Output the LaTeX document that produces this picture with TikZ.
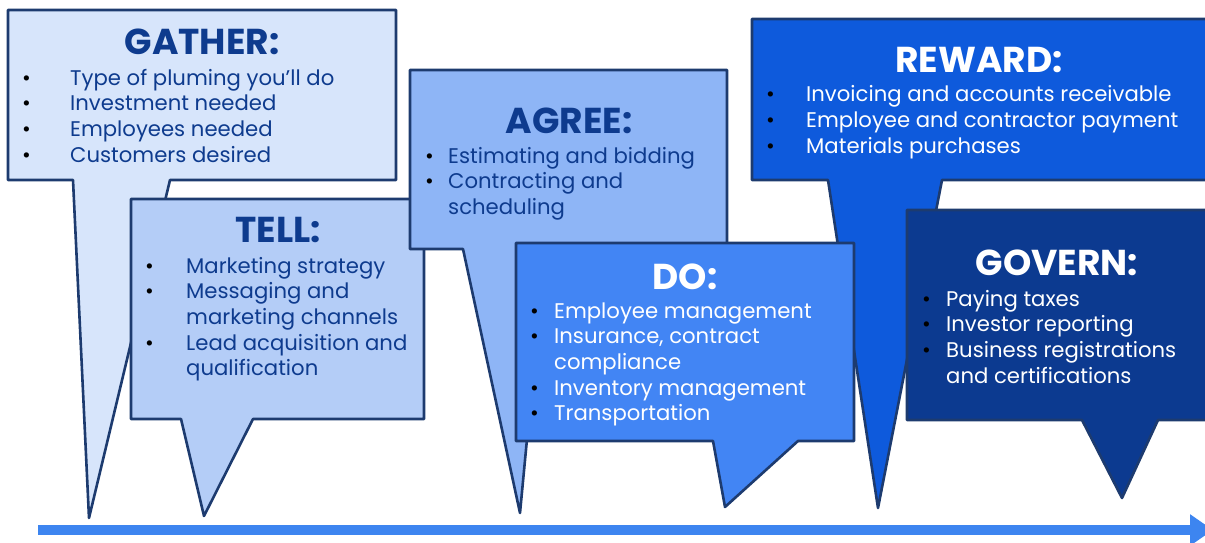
\documentclass[tikz,border=0pt]{standalone}
\usepackage{fontspec}
\setmainfont{Poppins}
\usetikzlibrary{arrows.meta}

\definecolor{edge}{HTML}{1D3B6F}
\definecolor{ink}{HTML}{0E3B8E}
\definecolor{gatherfill}{HTML}{D7E5FB}
\definecolor{tellfill}{HTML}{B4CDF7}
\definecolor{agreefill}{HTML}{8EB5F6}
\definecolor{dofill}{HTML}{4285F4}
\definecolor{rewardfill}{HTML}{0E5ADC}
\definecolor{governfill}{HTML}{0C3A90}
\definecolor{flow}{HTML}{3D85F0}

% bullet list: fixed gap between the bullet and the item text
\newcommand\itemtab[2]{\begin{tabular}[t]{@{}p{#1}@{}l@{}}#2\end{tabular}}
\newcommand\blt{\textcolor{black}{\textbullet}}

\tikzset{
  bubble/.style={draw=edge, line width=2.6pt, line join=round},
  heading/.style={anchor=base, inner sep=0pt, font=\fontsize{36}{40}\selectfont\bfseries},
  items/.style={anchor=base west, inner sep=0pt, font=\fontsize{21.2}{25.7}\selectfont},
}

\begin{document}
\begin{tikzpicture}[x=1pt, y=-1pt]
\useasboundingbox (0,0) rectangle (1205,543);
\clip (0,0) rectangle (1205,543);

% timeline arrow
\coordinate (flowstart) at (38,530);
\coordinate (flowend) at (1213,530);
\draw[flow, line width=10pt, -{Triangle[length=23pt,width=30pt]}] (flowstart) -- (flowend);

% GATHER
\path[bubble, fill=gatherfill] (8,10) -- (396,10) -- (396,180) -- (170,180) -- (89,518) -- (73,180) -- (8,180) -- cycle;
\node[heading, text=ink] (gathertitle) at (202,55) {GATHER:};
\node[items, text=ink] (gatherlist) at (22,85) {\itemtab{48pt}{%
  \blt & Type of pluming you’ll do\\
  \blt & Investment needed\\
  \blt & Employees needed\\
  \blt & Customers desired}};

% TELL
\path[bubble, fill=tellfill] (131,199) -- (424,199) -- (424,419) -- (253,419) -- (204,516) -- (181,419) -- (131,419) -- cycle;
\node[heading, text=ink] (telltitle) at (278,242) {TELL:};
\node[items, text=ink] (telllist) at (145,273) {\itemtab{41pt}{%
  \blt & Marketing strategy\\
  \blt & Messaging and\\
       & marketing channels\\
  \blt & Lead acquisition and\\
       & qualification}};

% AGREE
\path[bubble, fill=agreefill] (410,70) -- (727,70) -- (727,249) -- (545,249) -- (520,513) -- (463,249) -- (410,249) -- cycle;
\node[heading, text=ink] (agreetitle) at (569,133) {AGREE:};
\node[items, text=ink] (agreelist) at (425,163) {\itemtab{23pt}{%
  \blt & Estimating and bidding\\
  \blt & Contracting and\\
       & scheduling}};

% REWARD
\path[bubble, fill=rewardfill] (752,19) -- (1215,19) -- (1215,180) -- (942,180) -- (878,508) -- (828,180) -- (752,180) -- cycle;
\node[heading, text=white] (rewardtitle) at (979,73) {REWARD:};
\node[items, text=white] (rewardlist) at (766,102) {\itemtab{40pt}{%
  \blt & Invoicing and accounts receivable\\
  \blt & Employee and contractor payment\\
  \blt & Materials purchases}};

% DO
\path[bubble, fill=dofill] (516,243) -- (854,243) -- (854,441) -- (798,441) -- (725,507) -- (713,441) -- (516,441) -- cycle;
\node[heading, text=white] (dotitle) at (685,289) {DO:};
\node[items, text=white] (dolist) at (530,318) {\itemtab{24pt}{%
  \blt & Employee management\\
  \blt & Insurance, contract\\
       & compliance\\
  \blt & Inventory management\\
  \blt & Transportation}};

% GOVERN
\path[bubble, fill=governfill] (907,210) -- (1215,210) -- (1215,420) -- (1158,420) -- (1122,498) -- (1082,420) -- (907,420) -- cycle;
\node[heading, text=white] (governtitle) at (1057,275) {GOVERN:};
\node[items, text=white] (governlist) at (922,306) {\itemtab{24pt}{%
  \blt & Paying taxes\\
  \blt & Investor reporting\\
  \blt & Business registrations\\
       & and certifications}};
\end{tikzpicture}
\end{document}
